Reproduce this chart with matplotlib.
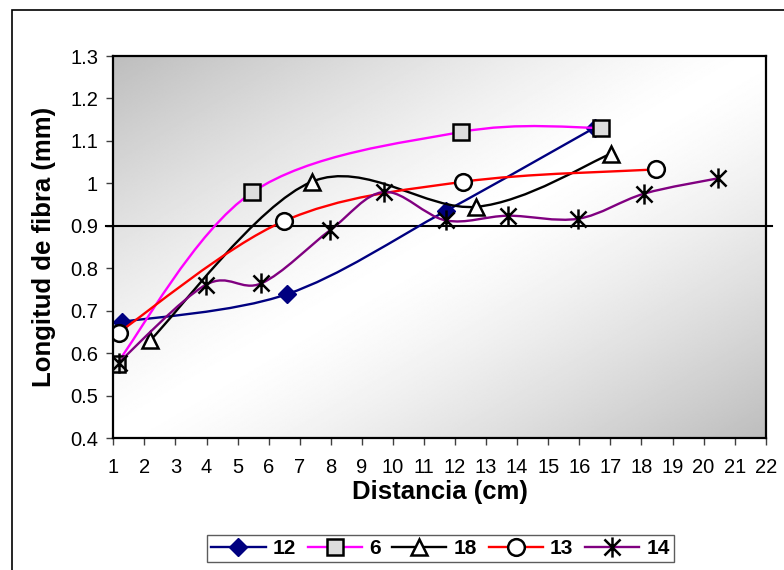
import numpy as np
import matplotlib
matplotlib.use("Agg")
import matplotlib.pyplot as plt
from matplotlib.path import Path
from matplotlib.patches import PathPatch, Rectangle
from matplotlib.lines import Line2D

plt.rcParams['font.family'] = ['Liberation Sans', 'DejaVu Sans']

# fibre length (mm) against distance (cm), one series per sample
x_12 = [1.28, 6.58, 11.70, 16.49]
y_12 = [0.674, 0.739, 0.935, 1.131]

x_6 = [1.11, 5.47, 12.19, 16.70]
y_6 = [0.576, 0.979, 1.121, 1.131]

x_18 = [2.19, 7.39, 12.69, 17.02]
y_18 = [0.631, 1.004, 0.945, 1.070]

x_13 = [1.17, 6.48, 12.27, 18.48]
y_13 = [0.649, 0.911, 1.004, 1.033]

x_14 = [1.17, 3.97, 5.77, 7.98, 9.72, 11.70, 13.70, 15.97, 18.09, 20.46]
y_14 = [0.578, 0.761, 0.765, 0.890, 0.980, 0.913, 0.924, 0.917, 0.976, 1.012]

series_names = ['12', '6', '18', '13', '14']
reference_level = 0.9

x_ticks = list(range(1, 23))
y_ticks = [0.4, 0.5, 0.6, 0.7, 0.8, 0.9, 1.0, 1.1, 1.2, 1.3]
y_tick_labels = ['0.4', '0.5', '0.6', '0.7', '0.8', '0.9', '1', '1.1', '1.2', '1.3']

# asterisk marker: vertical bar plus an X
star = Path([(0, -1), (0, 1), (-0.8, -0.8), (0.8, 0.8), (-0.8, 0.8), (0.8, -0.8)],
            [Path.MOVETO, Path.LINETO, Path.MOVETO, Path.LINETO, Path.MOVETO, Path.LINETO])

styles = [
    dict(color='#000080', marker='D', ms=9.5, mfc='#000080', mec='#000080', mew=1),
    dict(color='#FF00FF', marker='s', ms=11.5, mfc='#DDDDDD', mec='black', mew=1.8),
    dict(color='black', marker='^', ms=12, mfc='white', mec='black', mew=1.8),
    dict(color='#FF0000', marker='o', ms=12, mfc='white', mec='black', mew=1.8),
    dict(color='#800080', marker=star, ms=14.5, mfc='black', mec='black', mew=1.8),
]


def smooth_path(xs, ys):
    # cubic bezier through the points, like a spreadsheet "smoothed line"
    p = np.column_stack([xs, ys])
    n = len(p)
    verts = [p[0]]
    codes = [Path.MOVETO]
    for i in range(n - 1):
        prev = p[i - 1] if i > 0 else p[i]
        nxt = p[i + 2] if i + 2 < n else p[i + 1]
        c1 = p[i] + (p[i + 1] - prev) / 6.0
        c2 = p[i + 1] - (nxt - p[i]) / 6.0
        verts += [c1, c2, p[i + 1]]
        codes += [Path.CURVE4] * 3
    return Path(verts, codes)


fig = plt.figure(figsize=(7.84, 5.70), dpi=100)
ax = fig.add_axes([113.3 / 784, 1 - 438.3 / 570, 652.4 / 784, 382.3 / 570])

# diagonal grey-white-grey fill of the plot area
u, v = np.meshgrid(np.linspace(0, 1, 400), np.linspace(1, 0, 300))
d = np.abs((u + (1 - v)) / 2 - 0.5) * 2
shade = 1 - (66 / 255) * d ** 1.3
ax.imshow(shade, cmap='gray', vmin=0, vmax=1, extent=(0, 1, 0, 1),
          transform=ax.transAxes, aspect='auto', zorder=0, interpolation='bilinear')

ax.set_xlim(1, 22)
ax.set_ylim(0.4, 1.3)

all_x = [x_12, x_6, x_18, x_13, x_14]
all_y = [y_12, y_6, y_18, y_13, y_14]
handles = []
for i, (xs, ys, st) in enumerate(zip(all_x, all_y, styles)):
    z = 3 + i
    ax.add_patch(PathPatch(smooth_path(xs, ys), fill=False, edgecolor=st['color'],
                           lw=1.7, zorder=z))
    ax.plot(xs, ys, linestyle='none', marker=st['marker'], ms=st['ms'],
            mfc=st['mfc'], mec=st['mec'], mew=st['mew'], zorder=z + 0.5)
    handles.append(Line2D([], [], color=st['color'], lw=1.7, marker=st['marker'],
                          ms=st['ms'], mfc=st['mfc'], mec=st['mec'], mew=st['mew']))

# reference line at 0.9 mm, running slightly past the plot edges
ax.plot([-0.011, 1.0097], [reference_level, reference_level], color='black', lw=1.5,
        transform=ax.get_yaxis_transform(), clip_on=False, zorder=2)

for s in ax.spines.values():
    s.set_linewidth(1.6)
    s.set_color('black')
    s.set_zorder(10)

ax.set_xticks(x_ticks)
ax.set_yticks(y_ticks)
ax.set_yticklabels(y_tick_labels)
ax.tick_params(direction='out', length=5, width=1, color='#404040',
               labelsize=14.5, labelcolor='black')
ax.tick_params(axis='y', pad=6)
ax.tick_params(axis='x', pad=9)

ax.set_xlabel('Distancia (cm)', fontsize=18.5, fontweight='bold', labelpad=2)
ax.set_ylabel('Longitud de fibra (mm)', fontsize=18.5, fontweight='bold', labelpad=10)

leg = fig.legend(handles, series_names, loc='center', bbox_to_anchor=(440.5 / 784, 1 - 548.5 / 570),
                 ncol=5, frameon=True, fancybox=False, shadow=False,
                 prop=dict(weight='bold', size=15), handlelength=2.6, handletextpad=0.35,
                 columnspacing=0.55, borderpad=0.2, borderaxespad=0)
leg.get_frame().set_edgecolor('#333333')
leg.get_frame().set_linewidth(1)

# chart border
fig.patches.append(Rectangle((11.5 / 784, -0.1), 1.2, 1 - 10 / 570 + 0.1,
                             transform=fig.transFigure, fill=False, edgecolor='black',
                             lw=1.2, zorder=0))

fig.savefig('out.png', dpi=100)
